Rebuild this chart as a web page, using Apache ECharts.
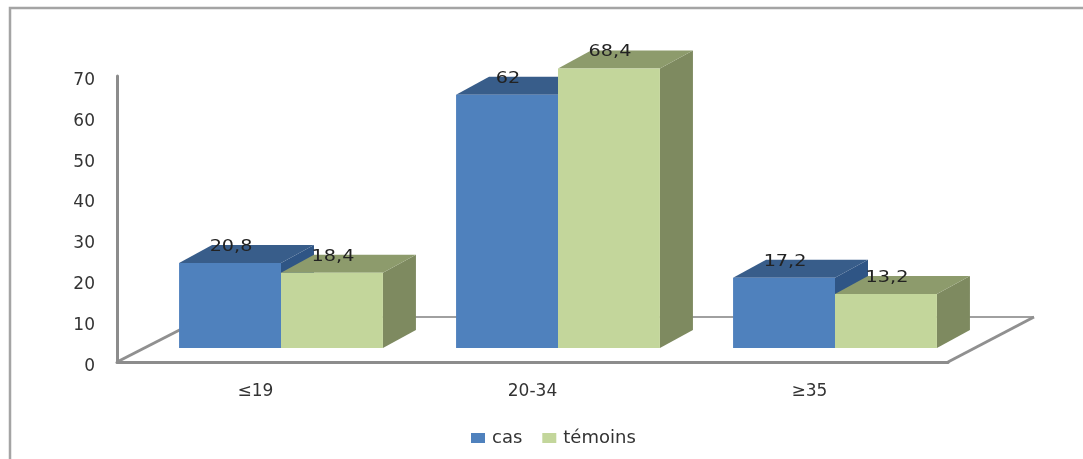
<!DOCTYPE html>
<html>
<head>
<meta charset="utf-8">
<style>html,body{margin:0;padding:0;background:#fff}#chart{width:1083px;height:459px}</style>
<script src="https://cdn.jsdelivr.net/npm/echarts@6/dist/echarts.min.js"></script>
</head>
<body>
<div id="chart"></div>
<script>
// Age groups and percentages for the two study groups
const ageGroups = ['≤19', '20-34', '≥35'];
const casValues = [20.8, 62, 17.2];
const temoinsValues = [18.4, 68.4, 13.2];
const yTicksMax = 70;
const yTickStep = 10;

// Projection of the box depth, in pixels
const DEPTH_X = 33, DEPTH_Y = 18;
// Bars stand on the floor, in front of the back wall and above the front edge
const FLOOR_LIFT = 14, BAR_SHIFT = 25.5, BAR_RATIO = 0.368;
const FONT = '"DejaVu Sans", Verdana, sans-serif';

function boxRenderer(side, front, topFace, sideFace) {
  return function (params, api) {
    const cat = api.value(0), val = api.value(1);
    const top = api.coord([cat, val]);
    const base = api.coord([cat, 0]);
    const band = api.size([1, 0])[0];
    const w = band * BAR_RATIO;
    const x0 = top[0] + BAR_SHIFT + (side === 0 ? -w : 0);
    const x1 = x0 + w;
    const y0 = top[1] - FLOOR_LIFT;
    const y1 = base[1] - FLOOR_LIFT;
    const dx = DEPTH_X, dy = DEPTH_Y;
    const label = String(val).replace('.', ',');
    return {
      type: 'group',
      children: [
        { type: 'polygon', shape: { points: [[x1, y0], [x1 + dx, y0 - dy], [x1 + dx, y1 - dy], [x1, y1]] }, style: { fill: sideFace } },
        { type: 'polygon', shape: { points: [[x0, y0], [x0 + dx, y0 - dy], [x1 + dx, y0 - dy], [x1, y0]] }, style: { fill: topFace } },
        { type: 'rect', shape: { x: x0, y: y0, width: w, height: y1 - y0 }, style: { fill: front } },
        {
          type: 'text', x: (x0 + x1) / 2 + 1, y: y0 - 16, scaleX: 1.28, z2: 10,
          style: { text: label, fill: '#222', font: '15px ' + FONT, align: 'center', verticalAlign: 'middle' }
        }
      ]
    };
  };
}

const chart = echarts.init(document.getElementById('chart'), null, { renderer: 'canvas' });

chart.setOption({
  animation: false,
  backgroundColor: '#ffffff',
  grid: { left: 117, right: 135, top: 76, bottom: 97 },
  legend: {
    bottom: 7, left: 466, itemWidth: 14, itemHeight: 10, itemGap: 20,
    icon: 'rect',
    textStyle: { fontFamily: FONT, fontSize: 18, color: '#333', padding: [0, 0, 0, 2] },
    data: ['cas', 'témoins']
  },
  xAxis: {
    type: 'category', data: ageGroups,
    axisLine: { lineStyle: { color: '#8c8c8c', width: 3 } },
    axisTick: { show: false },
    axisLabel: { fontFamily: FONT, fontSize: 17, color: '#333', margin: 21 }
  },
  yAxis: {
    type: 'value', min: 0, max: yTicksMax, interval: yTickStep,
    splitLine: { show: false },
    axisLine: { show: true, lineStyle: { color: '#8c8c8c', width: 3 } },
    axisTick: { show: false },
    axisLabel: { fontFamily: FONT, fontSize: 17, color: '#333', margin: 22, verticalAlign: 'top', padding: [-4, 0, 0, 0] }
  },
  graphic: [
    // Frame: left and top edges only
    { type: 'polyline', shape: { points: [[10, 470], [10, 8], [1090, 8]] }, style: { fill: 'none', stroke: '#a4a4a4', lineWidth: 2.5 }, z: 0 },
    // Floor outline behind the bars
    { type: 'polyline', shape: { points: [[205, 317], [1034, 317]] }, style: { fill: 'none', stroke: '#a0a0a0', lineWidth: 2 }, z: 0 },
    { type: 'polyline', shape: { points: [[117, 362], [205, 317]] }, style: { fill: 'none', stroke: '#909090', lineWidth: 3 }, z: 0 },
    { type: 'polyline', shape: { points: [[948, 362], [1034, 317]] }, style: { fill: 'none', stroke: '#909090', lineWidth: 3 }, z: 0 }
  ],
  series: [
    {
      name: 'cas', type: 'custom', z: 3, itemStyle: { color: '#4f81bd' },
      renderItem: boxRenderer(0, '#4f81bd', '#385d8a', '#2f5585'),
      encode: { x: 0, y: 1 },
      data: casValues.map((v, i) => [i, v])
    },
    {
      name: 'témoins', type: 'custom', z: 4, itemStyle: { color: '#c3d69b' },
      renderItem: boxRenderer(1, '#c3d69b', '#8d9b6c', '#7e8a60'),
      encode: { x: 0, y: 1 },
      data: temoinsValues.map((v, i) => [i, v])
    }
  ]
});
</script>
</body>
</html>
